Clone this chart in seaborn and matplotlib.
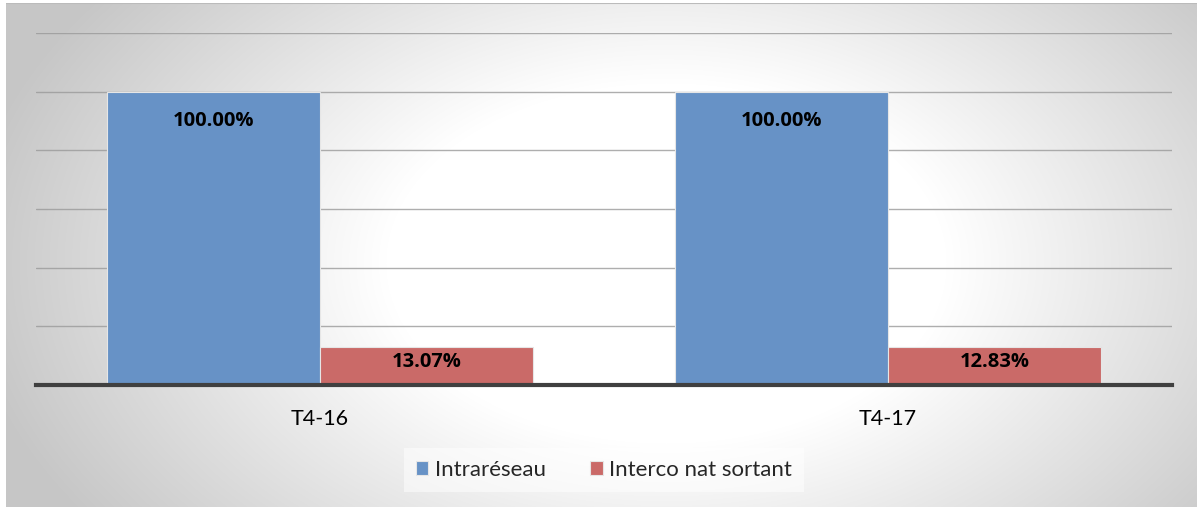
import numpy as np
import pandas as pd
import matplotlib
matplotlib.use("Agg")
import matplotlib.pyplot as plt
import seaborn as sns

# Data
periods = ["T4-16", "T4-17"]
intrareseau = [1.0000, 1.0000]
interco_nat_sortant = [0.1307, 0.1283]
series_names = ["Intraréseau", "Interco nat sortant"]
series_colors = ["#6792C6", "#CA6A68"]

df = pd.DataFrame({
    "period": periods * 2,
    "series": [series_names[0]] * 2 + [series_names[1]] * 2,
    "value": intrareseau + interco_nat_sortant,
})

sns.set_theme(style="white")
plt.rcParams["font.family"] = ["Lato", "DejaVu Sans"]

W, H = 1197, 507
fig = plt.figure(figsize=(W / 100, H / 100), dpi=100)
fig.patch.set_facecolor("white")

# Soft radial background for the chart area
bg = fig.add_axes([6 / W, 0, 1 - 6 / W, 1 - 3 / H])
bg.set_axis_off()
yy, xx = np.mgrid[0:504, 0:1191]
cx, cy = 660, 260
r = np.sqrt(((xx - cx) / 560) ** 2 + ((yy - cy) / 360) ** 2)
shade = 1 - 0.22 * np.clip((r - 0.5) / 0.75, 0, 1)
bg.imshow(np.dstack([shade] * 3), aspect="auto", extent=[0, 1, 0, 1], origin="upper")
bg.axhline(1, color="#BBBBBB", lw=1.5)

ax = fig.add_axes([36 / W, (H - 385) / H, (1172 - 36) / W, (385 - 33) / H])
ax.patch.set_alpha(0)

sns.barplot(data=df, x="period", y="value", hue="series", palette=series_colors,
            width=0.75, gap=0, ax=ax, edgecolor="#E6E6E6", linewidth=0.8,
            saturation=1, legend=True, zorder=3)

ax.set_xlim(-0.5, 1.5)
ax.set_ylim(0, 1.2)
ax.set_yticks(np.arange(0.2, 1.21, 0.2))
ax.set_yticklabels([])
ax.tick_params(axis="y", length=0)
ax.grid(axis="y", color="#9A9A9A", lw=1, alpha=0.8, zorder=0)
ax.set_axisbelow(True)
for s in ["top", "right", "left"]:
    ax.spines[s].set_visible(False)
ax.spines["bottom"].set_color("#404040")
ax.spines["bottom"].set_linewidth(3)
ax.spines["bottom"].set_zorder(5)
ax.set_xlabel("")
ax.set_ylabel("")
ax.tick_params(axis="x", length=0, pad=17, labelsize=15.5, labelcolor="#000000")

# Value labels inside the end of each bar
for container, vals in zip(ax.containers, [intrareseau, interco_nat_sortant]):
    for bar, v in zip(container, vals):
        x = bar.get_x() + bar.get_width() / 2
        off = -29 if v > 0.5 else -15
        ax.annotate(f"{v * 100:.2f}%", (x, v), xytext=(0, off * 0.72),
                    textcoords="offset points", ha="center", va="center",
                    fontsize=14.5, fontweight="bold", color="#000000", zorder=6,
                    family=["Open Sans", "DejaVu Sans"])

leg = ax.legend(loc="center", bbox_to_anchor=(0.5, (385 - 470) / (385 - 33)),
                ncol=2, frameon=True, fontsize=16, handlelength=0.55,
                handleheight=0.55, handletextpad=0.3, columnspacing=2.0,
                borderpad=0.55, borderaxespad=0)
leg.get_frame().set_facecolor("white")
leg.get_frame().set_alpha(0.5)
leg.get_frame().set_edgecolor("none")
leg.get_frame().set_boxstyle("square", pad=0)

fig.savefig("out.png", dpi=100)
